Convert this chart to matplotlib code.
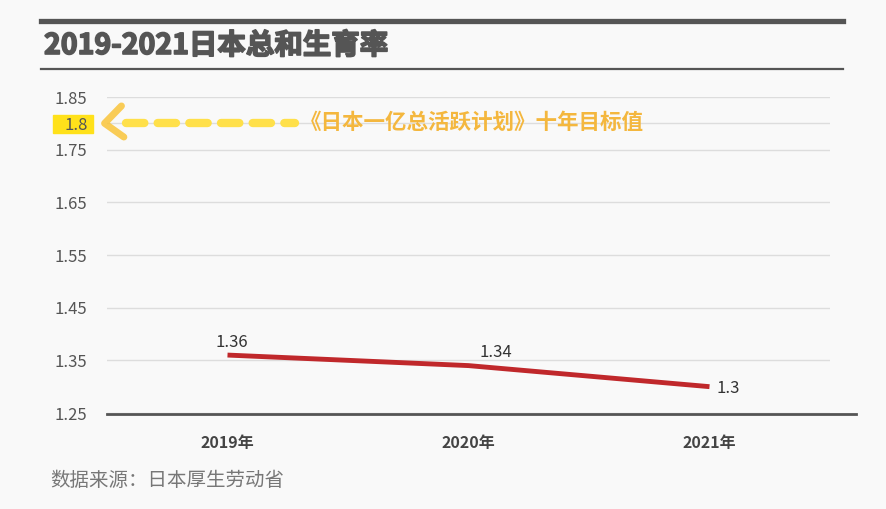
import matplotlib.pyplot as plt
import matplotlib.patheffects as pe
from matplotlib.lines import Line2D
from matplotlib.patches import Rectangle

plt.rcParams['font.family'] = ['Noto Sans CJK SC', 'DejaVu Sans']

years = ['2019年', '2020年', '2021年']
rates = [1.36, 1.34, 1.30]
rate_labels = ['1.36', '1.34', '1.3']
y_ticks = [1.25, 1.35, 1.45, 1.55, 1.65, 1.75, 1.8, 1.85]
y_tick_labels = ['1.25', '1.35', '1.45', '1.55', '1.65', '1.75', '1.8', '1.85']
target = 1.8

W, H = 886, 509
bg = '#f9f9f9'
fig = plt.figure(figsize=(W / 100, H / 100), dpi=100, facecolor=bg)
ax = fig.add_axes([107 / W, 1 - 413 / H, 723 / W, 316 / H], facecolor=bg)

x = list(range(len(years)))
ax.plot(x, rates, color='#c0282b', lw=3.5, solid_capstyle='butt', zorder=3)

# data labels
offsets = [(3, 3, 'center', 'bottom'), (20, 3, 'center', 'bottom'), (5, -1.5, 'left', 'center')]
for xi, v, lab, (dx, dy, ha, va) in zip(x, rates, rate_labels, offsets):
    ax.annotate(lab, (xi, v), xytext=(dx, dy), textcoords='offset points',
                ha=ha, va=va, fontsize=12, color='#333333', fontweight='medium')

ax.set_xlim(-0.5, 2.5)
ax.set_ylim(1.25, 1.85)
ax.set_yticks(y_ticks)
ax.set_yticklabels(y_tick_labels)
ax.set_xticks(x)
ax.set_xticklabels(years, fontweight='bold')
ax.tick_params(axis='y', length=0, pad=14, labelsize=12, labelcolor='#555555')
ax.tick_params(axis='x', length=0, pad=16, labelsize=11.5, labelcolor='#444444')
ax.grid(axis='y', color='#dddddd', lw=1)
ax.set_axisbelow(True)
for s in ax.spines.values():
    s.set_visible(False)

# bottom axis line (extends past the plot area)
fig.add_artist(Line2D([107 / W, 856 / W], [1 - 414 / H] * 2, color='#555555', lw=2))

# target annotation: dashed arrow at 1.8
ax.plot([-0.42, 0.28], [target, target], color='#ffe04a', lw=6, ls=(0, (2.2, 1.6)),
        dash_capstyle='round', zorder=4)
ax.plot([-0.44, -0.51, -0.43], [target + 0.033, target, target - 0.026], color='#f9c43a',
        lw=5, alpha=0.85, solid_capstyle='round', solid_joinstyle='round', zorder=4,
        clip_on=False)
ax.text(0.30, target + 0.002, '《日本一亿总活跃计划》十年目标值', ha='left', va='center',
        fontsize=15.5, fontweight='bold', color='#f4b73e', zorder=5)

# highlight behind the 1.8 tick label
fig.add_artist(Rectangle((53 / W, 1 - 133 / H), 40 / W, 18 / H, color='#ffe11a', zorder=0))

# title with rules
fig.add_artist(Line2D([41 / W, 843 / W], [1 - 20.5 / H] * 2, color='#555555', lw=3.8))
fig.add_artist(Line2D([41 / W, 843 / W], [1 - 69 / H] * 2, color='#555555', lw=1.6))
fig.text(44 / W, 1 - 46 / H, '2019-2021日本总和生育率', ha='left', va='center',
         fontsize=20.5, fontweight='heavy', color='#555555',
         path_effects=[pe.withStroke(linewidth=1.2, foreground='#555555')])

fig.text(50 / W, 1 - 481 / H, '数据来源：日本厚生劳动省', ha='left', va='center',
         fontsize=14, color='#777777')

fig.savefig('out.png', dpi=100, facecolor=bg)
